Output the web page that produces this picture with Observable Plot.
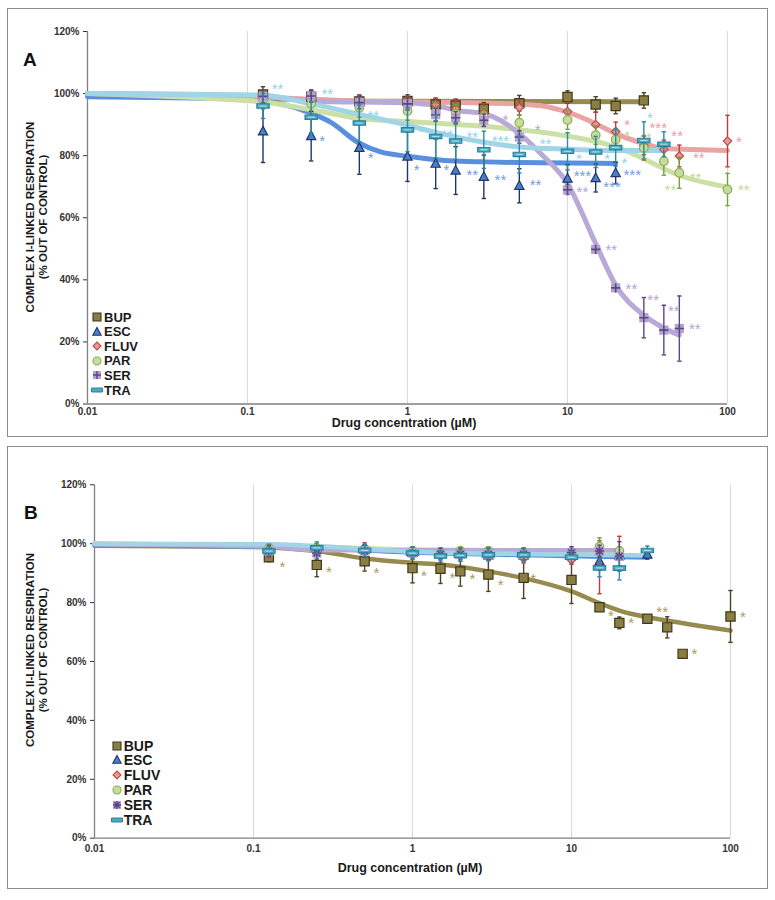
<!DOCTYPE html>
<html>
<head>
<meta charset="utf-8">
<script src="https://cdn.jsdelivr.net/npm/d3@7"></script>
<script src="https://cdn.jsdelivr.net/npm/@observablehq/plot@0.6"></script>
<style>
  body { margin: 0; background: #fff; font-family: "Liberation Sans", Arial, sans-serif; }
  #wrap { position: relative; width: 775px; height: 900px; overflow: hidden; }
  .box { position: absolute; border: 1px solid #8c8c8c; box-sizing: border-box; }
  .plot { position: absolute; left: 0; }
  .letter { position: absolute; font-weight: bold; font-size: 19px; line-height: 1; color: #111; }
  .ylab { position: absolute; width: 260px; height: 26px; line-height: 13px; text-align: center;
          font-weight: bold; font-size: 11.5px; color: #1a1a1a; transform: rotate(-90deg); transform-origin: 50% 50%; white-space: nowrap; }
  .xlab { position: absolute; width: 300px; text-align: center; font-weight: bold; font-size: 12.5px; line-height: 13px; color: #1a1a1a; }
  .leg { position: absolute; display: flex; align-items: center; font-weight: bold; color: #1a1a1a; white-space: nowrap; }
  .leg svg { display: block; margin-right: 1px; }
</style>
</head>
<body>
<div id="wrap">
  <div class="box" style="left:7px;top:8px;width:761px;height:429px"></div>
  <div class="box" style="left:7px;top:446px;width:761px;height:443px"></div>
  <div id="plotA" class="plot" style="top:0px"></div>
  <div id="plotB" class="plot" style="top:440px"></div>
  <div class="letter" style="left:23px;top:49.5px">A</div>
  <div class="letter" style="left:24px;top:502.5px">B</div>
  <div class="ylab" style="left:-93.5px;top:204px">COMPLEX I-LINKED RESPIRATION<br>(% OUT OF CONTROL)</div>
  <div class="ylab" style="left:-93.5px;top:637px">COMPLEX II-LINKED RESPIRATION<br>(% OUT OF CONTROL)</div>
  <div class="xlab" style="left:254px;top:417px">Drug concentration (µM)</div>
  <div class="xlab" style="left:260px;top:862px">Drug concentration (µM)</div>
  <div id="legA"></div>
  <div id="legB"></div>
</div>
<script>
// ---------------- DATA ----------------
const conc = [0.125, 0.25, 0.5, 1, 1.5, 2, 3, 5, 10, 15, 20, 30, 40, 50, 100];
const drugs = ["BUP", "ESC", "FLUV", "PAR", "SER", "TRA"];
const yTicks = [0, 20, 40, 60, 80, 100, 120];
const xTicks = [0.01, 0.1, 1, 10, 100];

// Panel A: Complex I-linked respiration, mean and error (% of control); null = not tested
const aBUP     = [99.7, 99, 97.5, 97.6, 96.5, 96.2, 95.1, 96.9, 98.9, 96.5, 96, 97.8, null, null, null];
const aBUPErr  = [2.5, 2, 2, 2, 2, 2, 2, 2.5, 2, 2.5, 2.5, 2.5, null, null, null];
const aESC     = [87.8, 86.3, 82.5, 79.7, 77.4, 75.2, 73.2, 70.3, 72.6, 72.8, 74.4, null, null, null, null];
const aESCErr  = [10, 8, 8.5, 8, 8, 7.7, 7, 5.5, 4.5, 4.5, 3.5, null, null, null, null];
const aFLUV    = [99, 98.5, 97.5, 97, 96.5, 95.1, 93.8, 95.5, 94.2, 90, 87.8, 83.3, 82, 79.9, 84.7];
const aFLUVErr = [2, 2, 2, 2, 2, 3, 3, 2.5, 3, 4, 3, 3, 3, 3.5, 8.3];
const aPAR     = [98, 96.7, 95.4, 94.4, 94, 93.5, 92.5, 90.6, 91.5, 86.6, 85.2, 82.5, 78.2, 74.5, 69.1];
const aPARErr  = [3, 3, 3, 3, 3, 3, 3, 2.5, 3, 3, 3, 4, 4.5, 5, 5.2];
const aSER     = [99.1, 99.2, 97.1, 96.7, 93.2, 92.2, 91.4, 86, 69, 49.8, 37.4, 27.8, 23.8, 24.3, null];
const aSERErr  = [2, 2, 2, 2, 2, 2, 2, 2, 1.5, 1, 1, 6.5, 8, 10.5, null];
const aTRA     = [96, 92.4, 90.5, 88.3, 86.2, 84.7, 81.9, 80.4, 81.4, 81.2, 82.6, 84.9, 83.7, null, null];
const aTRAErr  = [4, 5, 6, 7, 7, 6, 6, 6, 6, 5, 6, 6, 4, null, null];

// Panel A fitted curves
const aBUPFitX  = [0.01, 0.1, 0.3, 1, 30];
const aBUPFitY  = [99.5, 98.6, 97.8, 97.5, 97.4];
const aESCFitX  = [0.01, 0.08, 0.16, 0.25, 0.33, 0.5, 0.68, 1, 1.5, 3, 20];
const aESCFitY  = [99, 98.3, 96.7, 93.7, 90.8, 84, 81.2, 79.8, 78.7, 78, 77.5];
const aFLUVFitX = [0.01, 0.1, 0.5, 3, 5, 7, 10, 15, 20, 30, 40, 100];
const aFLUVFitY = [100, 99, 97.6, 97, 96.6, 96, 94, 90.3, 87.1, 83.9, 82.3, 81.7];
const aPARFitX  = [0.01, 0.08, 0.125, 0.25, 0.5, 1, 3.3, 10, 20, 30, 40, 50, 100];
const aPARFitY  = [100, 98, 97.3, 94.8, 92, 91, 89.3, 86.3, 82.8, 79, 75.8, 73.7, 69.9];
const aSERFitX  = [0.01, 0.125, 0.25, 1, 1.5, 2, 3, 3.8, 5, 6.8, 10, 15, 20, 30, 40, 50];
const aSERFitY  = [100, 99.3, 97.5, 97, 96.2, 94.6, 93.5, 91.4, 87.1, 80.7, 71, 51.7, 38.3, 28.6, 24.5, 22.2];
const aTRAFitX  = [0.01, 0.125, 0.25, 0.5, 1, 1.5, 3, 5, 10, 20, 40];
const aTRAFitY  = [100, 99.5, 96.7, 93.3, 89.8, 87.5, 84.3, 82.8, 82.1, 81.7, 81.7];

// Panel A significance marks
const aStarTRAx  = [0.154, 0.315, 0.611, 1.22, 1.77, 2.54, 3.81, 7.29, 11.8, 17.7, 22.7, 32.7];
const aStarTRAy  = [102.4, 100.7, 93.7, 88.5, 87.6, 86.9, 85.7, 84.6, 79.8, 79.8, 78.7, 93];
const aStarTRAt  = ["**", "**", "**", "*", "**", "**", "***", "**", "*", "*", "*", "*"];
const aStarESCx  = [0.293, 0.588, 1.14, 1.75, 2.54, 3.81, 6.31, 12.4, 19.0, 25.4];
const aStarESCy  = [85.7, 80.1, 76.4, 76.2, 74.7, 73.1, 71.3, 74.4, 70.7, 74.7];
const aStarESCt  = ["*", "*", "*", "*", "**", "**", "**", "***", "***", "***"];
const aStarSERx  = [4.10, 6.52, 12.4, 18.8, 25.1, 34.3, 46.2, 62.5];
const aStarSERy  = [92.4, 89.2, 69.1, 50.6, 38.1, 34.5, 30.8, 25.1];
const aStarSERt  = ["*", "*", "**", "**", "**", "**", "**", "**"];
const aStarFLUVx = [23.6, 36.9, 48.5, 66.2, 117.7];
const aStarFLUVy = [90.8, 89.8, 87.4, 80.1, 85.3];
const aStarFLUVt = ["*", "***", "**", "**", "*"];
const aStarPARx  = [23.6, 32.2, 44.0, 63.1, 126.5];
const aStarPARy  = [87.3, 86.5, 69.9, 73.7, 69.7];
const aStarPARt  = ["*", "*", "**", "**", "**"];

// Panel B: Complex II-linked respiration
const bBUP     = [95.4, 92.8, 94, 91.7, 91.5, 90.6, 89.5, 88.4, 87.7, 78.4, 73.1, 74.5, 71.6, 62.6, 75.3];
const bBUPErr  = [1.5, 4, 3.3, 5, 5, 5, 5.7, 7, 8, 0, 2, 0, 3.6, 0, 8.8];
const bESC     = [98, 98.5, 98, 97, 96.5, 96.5, 96, 96, 96, 94, 96, 96.3, null, null, null];
const bESCErr  = [1.5, 1.5, 1.5, 1.5, 1.5, 1.5, 1.5, 1.5, 1.5, 2, 1.5, 1.5, null, null, null];
const bFLUV    = [98, 98.5, 98.8, 97, 96.5, 96.5, 96, 95, 94.5, 92, 97.5, null, null, null, null];
const bFLUVErr = [1.5, 1.5, 1.5, 1.5, 1.5, 1.5, 1.5, 1.5, 1.5, 9, 5, null, null, null, null];
const bPAR     = [98.5, 98.5, 98, 97.5, 97, 97.5, 97.5, 97, 97, 99, 97.5, null, null, null, null];
const bPARErr  = [1.5, 1.5, 1.5, 1.5, 1.5, 1.5, 1.5, 1.5, 1.5, 3, 1.5, null, null, null, null];
const bSER     = [97.5, 96.8, 97.5, 96.8, 96.5, 96.5, 96.5, 96.5, 97, 97.5, 95.7, null, null, null, null];
const bSERErr  = [2, 2, 2, 2, 2, 2, 2, 2, 2, 2, 5, null, null, null, null];
const bTRA     = [97.5, 98.6, 97.7, 96.8, 95.8, 96, 96.2, 96.2, 95.4, 91.8, 91.7, 97.7, null, null, null];
const bTRAErr  = [1.5, 2, 2, 2, 2, 2, 2, 2, 2, 3, 4, 1.5, null, null, null];

// Panel B fitted curves
const bBUPFitX  = [0.01, 0.08, 0.25, 0.5, 1, 1.5, 3, 5, 10, 15, 20, 40, 100];
const bBUPFitY  = [99.3, 99, 97.5, 95, 93.5, 92.9, 90.6, 88.3, 83.8, 79.8, 77.3, 73.9, 70.5];
const bESCFitX  = [0.01, 0.125, 1, 10, 30];
const bESCFitY  = [99.5, 99, 97, 95.8, 95.3];
const bFLUVFitX = [0.01, 0.125, 1, 20];
const bFLUVFitY = [100, 99.5, 97.8, 97.2];
const bPARFitX  = [0.01, 0.125, 1, 20];
const bPARFitY  = [100, 99.5, 98, 97.5];
const bSERFitX  = [0.01, 0.125, 0.25, 1, 20];
const bSERFitY  = [99.8, 99, 97.8, 97.8, 97.8];
const bTRAFitX  = [0.01, 0.125, 0.5, 1, 10, 30];
const bTRAFitY  = [100, 99.8, 98.2, 97.3, 96.3, 96];

// Panel B significance marks
const bStarBUPx = [0.152, 0.298, 0.594, 1.18, 1.78, 2.38, 3.58, 5.74, 17.7, 23.7, 37.2, 59.4, 119.5];
const bStarBUPy = [93, 91.5, 90.9, 90.1, 89.4, 88.9, 86.9, 89, 76.5, 73.9, 77.6, 63.4, 76.2];
const bStarBUPt = ["*", "*", "*", "*", "*", "*", "*", "*", "*", "*", "**", "*", "*"];

// ---------------- STYLES ----------------
const style = {
  BUP:  {fill: "#8b7e45", stroke: "#3f3817", line: "#968a4e", err: "#4a4220", star: "#a89a5a", sym: "square",   r: 4.6},
  ESC:  {fill: "#4a7fd0", stroke: "#1f3763", line: "#5a8fe0", err: "#1f3763", star: "#6f9de6", sym: "triangle", r: 4.4},
  FLUV: {fill: "#e7999a", stroke: "#be4b48", line: "#e9a4a3", err: "#b5403d", star: "#eaa0a0", sym: "diamond",  r: 4.2},
  PAR:  {fill: "#c5dc9d", stroke: "#8cae4f", line: "#cbe0a5", err: "#7b9c3f", star: "#c3d995", sym: "circle",   r: 4.3},
  SER:  {fill: "#b3a2d1", stroke: "#5c4680", line: "#b9a9d9", err: "#5c4680", star: "#b5a3d6", sym: "plus",     r: 4.6},
  TRA:  {fill: "#4bacc6", stroke: "#2c7f96", line: "#9fd5e6", err: "#2c8aa3", star: "#93d2ea", sym: "dash",     r: 6.2}
};

const rad = size => Math.sqrt(size / Math.PI);
const SYM = {
  square:   {draw(c, s) { const r = rad(s); c.moveTo(-r, -r); c.lineTo(r, -r); c.lineTo(r, r); c.lineTo(-r, r); c.closePath(); }},
  triangle: {draw(c, s) { const r = rad(s); c.moveTo(0, -r * 1.15); c.lineTo(r * 1.05, r * 0.8); c.lineTo(-r * 1.05, r * 0.8); c.closePath(); }},
  diamond:  {draw(c, s) { const r = rad(s); c.moveTo(0, -r); c.lineTo(r, 0); c.lineTo(0, r); c.lineTo(-r, 0); c.closePath(); }},
  circle:   {draw(c, s) { const r = rad(s); c.moveTo(r, 0); c.arc(0, 0, r, 0, 2 * Math.PI); }},
  plus:     {draw(c, s) { const r = rad(s); c.moveTo(-r, 0); c.lineTo(r, 0); c.moveTo(0, -r); c.lineTo(0, r); }},
  asterisk: {draw(c, s) { const r = rad(s), k = r * 0.72; c.moveTo(-r, 0); c.lineTo(r, 0); c.moveTo(0, -r); c.lineTo(0, r);
                            c.moveTo(-k, -k); c.lineTo(k, k); c.moveTo(-k, k); c.lineTo(k, -k); }},
  dash:     {draw(c, s) { const r = rad(s), h = r * 0.36; c.moveTo(-r, -h); c.lineTo(r, -h); c.lineTo(r, h); c.lineTo(-r, h); c.closePath(); }},
  cap:      {draw(c, s) { const r = rad(s); c.moveTo(-r, 0); c.lineTo(r, 0); }}
};

// ---------------- BUILD ----------------
function buildPanel(means, errs, fitX, fitY, stars) {
  const pts = [];
  drugs.forEach(s => conc.forEach((c, i) => {
    if (means[s][i] != null) pts.push({s, c, v: means[s][i], e: errs[s][i] || 0});
  }));
  const fits = [];
  drugs.forEach(s => fitX[s].forEach((c, i) => fits.push({s, c, v: fitY[s][i]})));
  const st = [];
  Object.keys(stars).forEach(s => stars[s].x.forEach((c, i) => st.push({s, c, v: stars[s].y[i], t: stars[s].t[i]})));
  return {pts, fits, st};
}

function makePlot(data, o) {
  const marks = [
    Plot.ruleX([0.1, 1, 10, 100], {stroke: "#d9d9d9", strokeWidth: 1}),
    Plot.ruleX([0.01], {stroke: "#7f7f7f", strokeWidth: 1.3}),
    Plot.ruleY([0], {stroke: "#7f7f7f", strokeWidth: 1.3})
  ];
  drugs.forEach(s => {
    marks.push(Plot.line(data.fits.filter(d => d.s === s), {
      x: "c", y: "v", stroke: style[s].line, strokeWidth: o.lineW, curve: "monotone-x", strokeLinecap: "round"
    }));
  });
  drugs.forEach(s => {
    const d = data.pts.filter(p => p.s === s);
    const eb = d.filter(p => p.e > 0);
    const S = style[s];
    marks.push(
      Plot.ruleX(eb, {x: "c", y1: p => p.v - p.e, y2: p => p.v + p.e, stroke: S.err, strokeWidth: 1.4}),
      Plot.dot(eb, {x: "c", y: p => p.v - p.e, symbol: SYM.cap, r: 2.2, fill: "none", stroke: S.err, strokeWidth: 1.4}),
      Plot.dot(eb, {x: "c", y: p => p.v + p.e, symbol: SYM.cap, r: 2.2, fill: "none", stroke: S.err, strokeWidth: 1.4})
    );
    if (s === "SER") {
      marks.push(
        Plot.dot(d, {x: "c", y: "v", symbol: SYM.square, r: S.r, fill: S.fill, stroke: "none"}),
        Plot.dot(d, {x: "c", y: "v", symbol: SYM[o.serSym], r: S.r, fill: "none", stroke: S.stroke, strokeWidth: 1.6})
      );
    } else if (s === "TRA") {
      marks.push(
        Plot.dot(d, {x: "c", y: "v", symbol: SYM.dash, r: S.r, fill: S.fill, stroke: S.stroke, strokeWidth: 1.1}),
        Plot.dot(d, {x: "c", y: "v", symbol: SYM.cap, r: 3.6, fill: "none", stroke: "#c6e8f2", strokeWidth: 0.9})
      );
    } else {
      marks.push(Plot.dot(d, {x: "c", y: "v", symbol: SYM[S.sym], r: S.r, fill: S.fill, stroke: S.stroke, strokeWidth: 1.2}));
    }
  });
  drugs.forEach(s => {
    const d = data.st.filter(p => p.s === s);
    if (d.length) marks.push(Plot.text(d, {x: "c", y: "v", text: "t", fill: style[s].star, fontSize: 15,
      fontWeight: "normal", dy: 3, textAnchor: "middle"}));
  });
  return Plot.plot({
    width: 775, height: o.height,
    marginLeft: o.ml, marginRight: o.mr, marginTop: o.mt, marginBottom: o.mb,
    style: "overflow: visible; background: none; font-family: 'Liberation Sans', Arial, sans-serif; font-size: 10px; font-weight: bold; color: #333;",
    x: {type: "log", domain: [0.01, 100], ticks: xTicks, tickFormat: d => String(d), tickSize: 0, tickPadding: o.xpad, label: null},
    y: {domain: [0, 120], ticks: yTicks, tickFormat: d => d + "%", tickSize: 4, tickPadding: 4, label: null},
    marks
  });
}

const dataA = buildPanel(
  {BUP: aBUP, ESC: aESC, FLUV: aFLUV, PAR: aPAR, SER: aSER, TRA: aTRA},
  {BUP: aBUPErr, ESC: aESCErr, FLUV: aFLUVErr, PAR: aPARErr, SER: aSERErr, TRA: aTRAErr},
  {BUP: aBUPFitX, ESC: aESCFitX, FLUV: aFLUVFitX, PAR: aPARFitX, SER: aSERFitX, TRA: aTRAFitX},
  {BUP: aBUPFitY, ESC: aESCFitY, FLUV: aFLUVFitY, PAR: aPARFitY, SER: aSERFitY, TRA: aTRAFitY},
  {TRA: {x: aStarTRAx, y: aStarTRAy, t: aStarTRAt}, ESC: {x: aStarESCx, y: aStarESCy, t: aStarESCt},
   SER: {x: aStarSERx, y: aStarSERy, t: aStarSERt}, FLUV: {x: aStarFLUVx, y: aStarFLUVy, t: aStarFLUVt},
   PAR: {x: aStarPARx, y: aStarPARy, t: aStarPARt}}
);
const dataB = buildPanel(
  {BUP: bBUP, ESC: bESC, FLUV: bFLUV, PAR: bPAR, SER: bSER, TRA: bTRA},
  {BUP: bBUPErr, ESC: bESCErr, FLUV: bFLUVErr, PAR: bPARErr, SER: bSERErr, TRA: bTRAErr},
  {BUP: bBUPFitX, ESC: bESCFitX, FLUV: bFLUVFitX, PAR: bPARFitX, SER: bSERFitX, TRA: bTRAFitX},
  {BUP: bBUPFitY, ESC: bESCFitY, FLUV: bFLUVFitY, PAR: bPARFitY, SER: bSERFitY, TRA: bTRAFitY},
  {BUP: {x: bStarBUPx, y: bStarBUPy, t: bStarBUPt}}
);

document.getElementById("plotA").append(makePlot(dataA,
  {height: 440, ml: 87, mr: 48, mt: 31, mb: 36.5, lineW: 5, serSym: "plus", xpad: 4}));
document.getElementById("plotB").append(makePlot(dataB,
  {height: 450, ml: 94, mr: 45, mt: 44.3, mb: 52.3, lineW: 4.5, serSym: "asterisk", xpad: 7}));

// ---------------- LEGENDS ----------------
function legend(el, o) {
  drugs.forEach((s, i) => {
    const S = style[s];
    const row = document.createElement("div");
    row.className = "leg";
    row.style.left = (o.cx - 6) + "px";
    row.style.top = (o.y0 + i * o.dy - 8) + "px";
    row.style.height = "16px";
    row.style.fontSize = o.fs + "px";
    const ns = "http://www.w3.org/2000/svg";
    const svg = document.createElementNS(ns, "svg");
    svg.setAttribute("width", 12); svg.setAttribute("height", 12);
    const g = document.createElementNS(ns, "g");
    g.setAttribute("transform", "translate(6,6)");
    const add = (sym, r, fill, stroke, sw) => {
      const p = document.createElementNS(ns, "path");
      p.setAttribute("d", d3.symbol(sym, Math.PI * r * r)());
      p.setAttribute("fill", fill); p.setAttribute("stroke", stroke); p.setAttribute("stroke-width", sw);
      g.appendChild(p);
    };
    if (s === "SER") { add(SYM.square, 4, S.fill, "none", 0); add(SYM[o.serSym], 4, "none", S.stroke, 1.4); }
    else if (s === "TRA") add(SYM.dash, 5.5, S.fill, S.stroke, 1);
    else add(SYM[S.sym], 4, S.fill, S.stroke, 1.1);
    svg.appendChild(g);
    row.appendChild(svg);
    const t = document.createElement("span");
    t.textContent = s;
    row.appendChild(t);
    el.appendChild(row);
  });
}
legend(document.getElementById("legA"), {cx: 97, y0: 317, dy: 14.6, fs: 13, serSym: "plus"});
legend(document.getElementById("legB"), {cx: 116.7, y0: 745.5, dy: 14.9, fs: 14, serSym: "asterisk"});
</script>
</body>
</html>
